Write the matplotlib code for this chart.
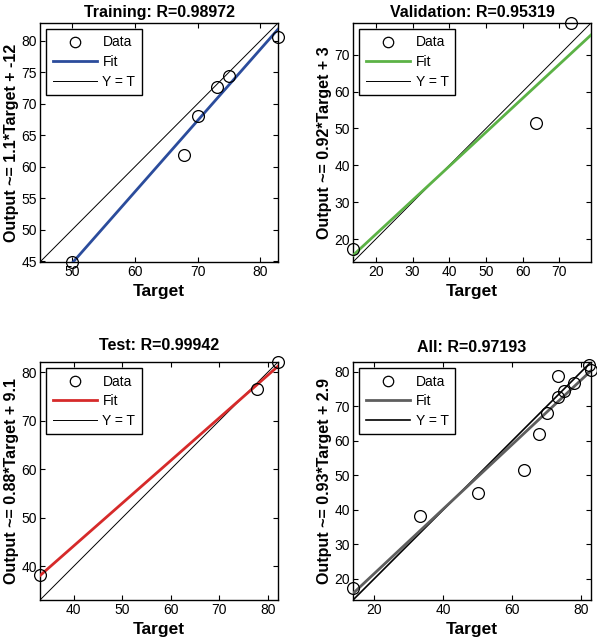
import numpy as np
import matplotlib
matplotlib.use("Agg")
import matplotlib.pyplot as plt
from matplotlib.lines import Line2D

plt.rcParams["font.family"] = ["Liberation Sans", "DejaVu Sans"]

# values
train_target = [50.0, 67.8, 70.0, 73.1, 75.0, 82.8]
train_output = [44.9, 61.8, 68.1, 72.7, 74.4, 80.6]
val_target = [13.8, 63.5, 73.1]
val_output = [17.2, 51.5, 78.6]
test_target = [33.1, 77.8, 82.1]
test_output = [38.2, 76.6, 82.0]
all_target = train_target + val_target + test_target
all_output = train_output + val_output + test_output

titles = ["Training: R=0.98972", "Validation: R=0.95319",
          "Test: R=0.99942", "All: R=0.97193"]
ylabels = ["Output ~= 1.1*Target + -12", "Output ~= 0.92*Target + 3",
           "Output ~= 0.88*Target + 9.1", "Output ~= 0.93*Target + 2.9"]
xticks = [[50, 60, 70, 80], [20, 30, 40, 50, 60, 70],
          [40, 50, 60, 70, 80], [20, 40, 60, 80]]
yticks = [[45, 50, 55, 60, 65, 70, 75, 80], [20, 30, 40, 50, 60, 70],
          [40, 50, 60, 70, 80], [20, 30, 40, 50, 60, 70, 80]]
fit_colors = ["#2b4c9c", "#5cb246", "#d62a2a", "#5e5e5e"]

panels = [(train_target, train_output), (val_target, val_output),
          (test_target, test_output), (all_target, all_output)]

W, H = 597, 640
boxes = [(40, 23, 278, 262), (353, 23, 591, 262),
         (40, 362, 278, 600), (353, 362, 591, 600)]
title_pads = [4, 4, 9, 7]

fig = plt.figure(figsize=(W / 100, H / 100), dpi=100)

for i, (t, y) in enumerate(panels):
    l, tp, r, b = boxes[i]
    ax = fig.add_axes([l / W, 1 - b / H, (r - l) / W, (b - tp) / H])
    t = np.array(t)
    y = np.array(y)
    lo = min(t.min(), y.min())
    hi = max(t.max(), y.max())
    m, c = np.polyfit(t, y, 1)
    xs = np.array([lo, hi])

    yt_lw = 1.2 if i == 3 else 0.7
    ax.plot(xs, xs, color="black", lw=yt_lw, zorder=2)
    ax.plot(xs, m * xs + c, color=fit_colors[i], lw=2.0, zorder=3)
    ax.plot(t, y, "o", mfc="none", mec="black", ms=8.5, mew=0.9,
            zorder=4, clip_on=False)

    ax.set_xlim(lo, hi)
    ax.set_ylim(lo, hi)
    ax.set_xticks(xticks[i])
    ax.set_yticks(yticks[i])
    ax.tick_params(direction="in", top=True, right=True, length=3.5,
                   width=0.8, labelsize=10, pad=2)
    for s in ax.spines.values():
        s.set_linewidth(1.0)

    ax.set_title(titles[i], fontsize=11.5, fontweight="bold",
                 pad=title_pads[i])
    ax.set_xlabel("Target", fontsize=12.5, fontweight="bold", labelpad=4)
    ax.set_ylabel(ylabels[i], fontsize=11.5, fontweight="bold", labelpad=2)

    handles = [
        Line2D([], [], ls="none", marker="o", mfc="none", mec="black",
               ms=7.5, mew=0.9),
        Line2D([], [], color=fit_colors[i], lw=2.0),
        Line2D([], [], color="black", lw=yt_lw),
    ]
    leg = ax.legend(handles, ["Data", "Fit", "Y = T"], loc="upper left",
                    fontsize=10, fancybox=False, framealpha=1,
                    edgecolor="black", handlelength=3.2, handletextpad=0.4,
                    borderpad=0.45, labelspacing=0.42,
                    borderaxespad=0.45)
    leg.get_frame().set_linewidth(1.0)

fig.savefig("out.png", dpi=100)
